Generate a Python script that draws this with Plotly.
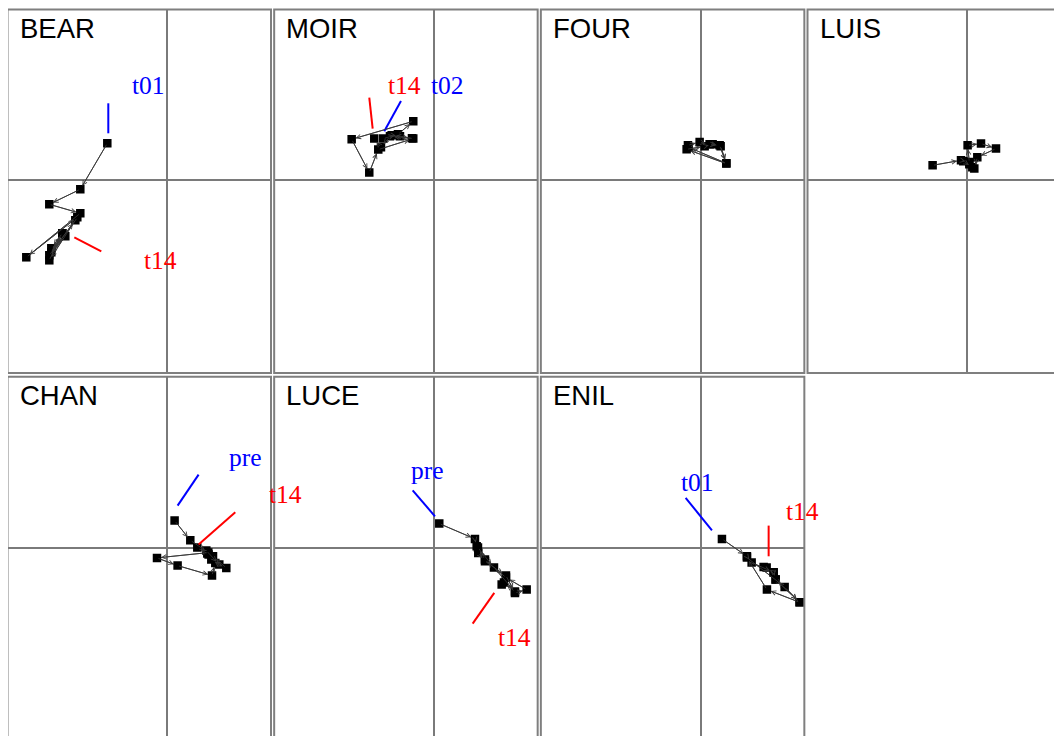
import plotly.graph_objects as go

# ---------------- data ----------------
sites = ["BEAR", "MOIR", "FOUR", "LUIS", "CHAN", "LUCE", "ENIL"]

bear_x = [-0.60, -0.87, -1.18, -0.87, -1.41, -0.90, -1.18, -1.05, -1.16, -1.02, -1.18, -0.92, -1.16, -1.05]
bear_y = [0.37, -0.09, -0.24, -0.33, -0.77, -0.37, -0.80, -0.53, -0.68, -0.56, -0.75, -0.40, -0.72, -0.53]

moir_x = [-0.507, -0.36, -0.207, -0.823, -0.647, -0.557, -0.207, -0.423, -0.34, -0.22, -0.44, -0.53, -0.597]
moir_y = [0.417, 0.46, 0.59, 0.41, 0.077, 0.307, 0.417, 0.45, 0.44, 0.42, 0.44, 0.33, 0.417]

four_x = [-0.127, -0.01, 0.09, 0.19, 0.257, -0.14, 0.04, 0.12, 0.20, 0.257, -0.12]
four_y = [0.35, 0.383, 0.36, 0.35, 0.167, 0.31, 0.34, 0.36, 0.34, 0.17, 0.33]

luis_x = [-0.347, -0.063, 0.02, 0.003, 0.137, 0.287, 0.10, 0.07, 0.02, -0.04, 0.05]
luis_y = [0.15, 0.20, 0.183, 0.35, 0.367, 0.317, 0.23, 0.117, 0.16, 0.19, 0.13]

chan_x = [0.073, 0.23, 0.41, -0.103, 0.103, 0.447, 0.48, 0.59, 0.457, 0.413, 0.39, 0.52, 0.44, 0.40, 0.30]
chan_y = [0.27, 0.073, -0.05, -0.103, -0.18, -0.28, -0.153, -0.203, -0.087, -0.07, -0.03, -0.17, -0.12, -0.06, 0.00]

luce_x = [0.053, 0.41, 0.427, 0.443, 0.51, 0.72, 0.81, 0.927, 0.72, 0.51, 0.44, 0.60, 0.81, 0.70, 0.677]
luce_y = [0.24, 0.087, 0.013, -0.053, -0.137, -0.28, -0.453, -0.42, -0.30, -0.12, 0.00, -0.20, -0.44, -0.35, -0.37]

enil_x = [0.213, 0.463, 0.51, 0.73, 0.75, 0.99, 0.663, 0.463, 0.84, 0.99, 0.75, 0.73, 0.66, 0.63]
enil_y = [0.087, -0.087, -0.15, -0.247, -0.32, -0.547, -0.42, -0.10, -0.393, -0.547, -0.32, -0.25, -0.20, -0.193]

series_x = [bear_x, moir_x, four_x, luis_x, chan_x, luce_x, enil_x]
series_y = [bear_y, moir_y, four_y, luis_y, chan_y, luce_y, enil_y]

# labels of first / last dates (data units of each panel)
label_panel = [0, 0, 1, 1, 4, 4, 5, 5, 6, 6]
label_text = ["t01", "t14", "t14", "t02", "pre", "t14", "pre", "t14", "t01", "t14"]
label_kind = ["first", "last", "last", "first", "first", "last", "first", "last", "first", "last"]
leader_x0 = [-0.59, -0.93, -0.647, -0.33, 0.313, 0.68, -0.213, 0.603, -0.15, 0.68]
leader_y0 = [0.77, -0.57, 0.827, 0.793, 0.73, 0.353, 0.573, -0.453, 0.497, 0.22]
leader_x1 = [-0.59, -0.66, -0.613, -0.497, 0.103, 0.313, 0.01, 0.387, 0.113, 0.68]
leader_y1 = [0.47, -0.71, 0.517, 0.49, 0.42, 0.03, 0.313, -0.76, 0.173, -0.087]
text_x = [-0.19, -0.07, -0.29, 0.133, 0.78, 1.18, -0.067, 0.81, -0.027, 1.017]
text_y = [0.95, -0.80, 0.95, 0.95, 0.90, 0.53, 0.773, -0.903, 0.647, 0.363]

# ---------------- layout geometry ----------------
W, H = 1062, 736
S = 100.0               # pixels per data unit
PW, PH = 263.5, 363.5   # panel size (px)
PITCH_X, PITCH_Y = 266.67, 367.3
LEFT, TOP = -0.5, 1.5
OX, OY = 159.8, 170.8   # origin offset inside a panel (px)

fig = go.Figure()
shapes = []
annotations = []
geo = []

for k, name in enumerate(sites):
    r, c = divmod(k, 4)
    x0 = LEFT + c * PITCH_X
    x1 = x0 + PW
    t = TOP + r * PITCH_Y
    b = t + PH
    dx0, dx1 = max(x0, 0), min(x1, W)
    dt, db = max(t, 0), min(b, H)
    ox = x0 + OX
    oy = t + OY
    xr = [(dx0 - ox) / S, (dx1 - ox) / S]
    yr = [-(db - oy) / S, (oy - dt) / S]
    geo.append((ox, oy))
    sfx = "" if k == 0 else str(k + 1)
    ax_common = dict(showticklabels=False, showgrid=False, ticks="", showline=False,
                     zeroline=True, zerolinecolor="#7a7a7a", zerolinewidth=1.5,
                     fixedrange=True)
    fig.layout["xaxis" + sfx] = dict(domain=[dx0 / W, dx1 / W], range=xr, anchor="y" + sfx, **ax_common)
    fig.layout["yaxis" + sfx] = dict(domain=[1 - db / H, 1 - dt / H], range=yr, anchor="x" + sfx, **ax_common)

    # panel frame
    shapes.append(dict(type="rect", xref="paper", yref="paper",
                       x0=x0 / W, x1=x1 / W, y0=1 - b / H, y1=1 - t / H,
                       line=dict(color="#7f7f7f", width=2), layer="above"))
    # panel title
    annotations.append(dict(text=name, xref="paper", yref="paper",
                            x=(x0 + 10) / W, y=1 - (t + 18.5) / H,
                            xanchor="left", yanchor="middle", showarrow=False,
                            font=dict(family="Liberation Sans, Arial", size=27.5, color="black")))

    xs, ys = series_x[k], series_y[k]
    fig.add_trace(go.Scatter(x=xs, y=ys, mode="lines+markers",
                             xaxis="x" + sfx, yaxis="y" + sfx,
                             line=dict(color="#3a3a3a", width=1),
                             marker=dict(symbol="square", size=8.5, color="black"),
                             showlegend=False, hoverinfo="skip"))
    for i in range(1, len(xs)):
        annotations.append(dict(x=xs[i], y=ys[i], ax=xs[i - 1], ay=ys[i - 1],
                                xref="x" + sfx, yref="y" + sfx,
                                axref="x" + sfx, ayref="y" + sfx,
                                text="", showarrow=True, arrowhead=5, arrowsize=1.1,
                                arrowwidth=0.8, arrowcolor="#3a3a3a", standoff=4))


def to_paper(k, x, y):
    ox, oy = geo[k]
    return (ox + x * S) / W, 1 - (oy - y * S) / H


for j, k in enumerate(label_panel):
    col = "#0000ff" if label_kind[j] == "first" else "#ff0000"
    px0, py0 = to_paper(k, leader_x0[j], leader_y0[j])
    px1, py1 = to_paper(k, leader_x1[j], leader_y1[j])
    shapes.append(dict(type="line", xref="paper", yref="paper",
                       x0=px0, y0=py0, x1=px1, y1=py1,
                       line=dict(color=col, width=2)))
    tx, ty = to_paper(k, text_x[j], text_y[j])
    annotations.append(dict(text=label_text[j], xref="paper", yref="paper",
                            x=tx, y=ty, xanchor="center", yanchor="middle",
                            showarrow=False,
                            font=dict(family="Liberation Serif, Times New Roman", size=25.5, color=col)))

fig.update_layout(width=W, height=H, margin=dict(l=0, r=0, t=0, b=0),
                  paper_bgcolor="white", plot_bgcolor="white",
                  shapes=shapes, annotations=annotations, showlegend=False)

fig.write_html("out.html")
